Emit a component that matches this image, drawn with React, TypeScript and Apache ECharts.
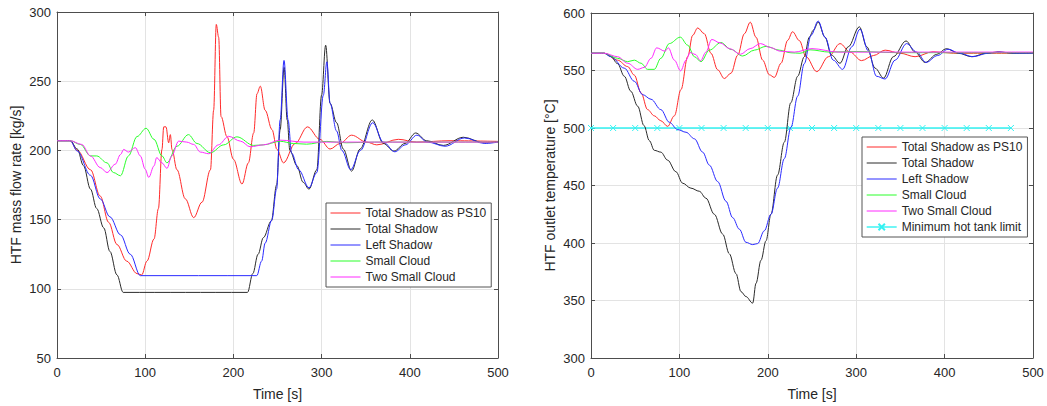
import React, { useEffect, useRef } from 'react';
import * as echarts from 'echarts';

// ---------- Left plot: HTF mass flow rate [kg/s] ----------
const flowPs10T = [0, 15, 23, 38, 49, 58.6, 68, 79, 90.7, 96, 102, 110, 115, 119, 121, 123.6, 126.6, 128.5, 130.4, 136, 145.5, 155, 164.4, 174, 177.6, 180.6, 183.3, 186, 192.7, 200, 209.8, 217, 223, 226.8, 230.5, 236, 243.8, 249.4, 256.8, 270, 284, 298, 309.6, 320.9, 334, 351, 362.6, 387, 407.8, 445.6, 500];
const flowPs10V = [207, 207, 200, 186, 167, 148, 132, 120, 111, 110, 120, 136, 158, 200.7, 217, 217, 205.5, 211.4, 200.7, 186, 165, 151.4, 162.6, 186, 229, 291, 281.7, 224.5, 210, 193.6, 175.7, 191, 212.6, 241, 246.4, 229, 215, 200.7, 191, 205, 217, 208, 201, 205, 211, 206, 204, 208, 206, 207, 206.5];

const flowTotalT = [0, 15, 23, 30, 38, 45, 53, 60, 68, 75, 216, 222, 228, 234, 243, 249, 253, 257.5, 261, 264, 272, 279, 285.7, 294.6, 300, 304.6, 309.6, 317, 324.6, 334, 343.6, 357.5, 370, 382, 394.6, 406.7, 419, 438, 460.7, 484, 500];
const flowTotalV = [207, 207, 201, 189, 172, 158, 144, 127, 110, 97.4, 97.4, 111, 125, 137, 149, 175, 215, 260, 222, 200, 189, 177, 172, 186, 240, 276, 234, 220, 201, 185, 201, 222, 205, 199.5, 205, 212.6, 207, 203.6, 209.5, 205.5, 206];

const flowLeftT = [0, 15, 23, 38, 49, 60, 72, 83, 94.5, 226.5, 232, 236, 243.5, 249, 253, 257.4, 262, 266, 274, 285.7, 294.6, 302, 306, 309.6, 317, 323, 333, 344, 358, 370, 383, 395, 408, 420, 440, 462, 485, 500];
const flowLeftV = [207, 207, 199.5, 182, 165, 152, 139, 125, 109.5, 109.5, 120, 133, 149.7, 172, 222, 265, 222, 198, 186, 173, 184, 240, 264, 234, 214, 200, 186, 200, 220, 206, 199, 204, 211, 206, 203, 209, 205, 206];

const flowSmallT = [0, 15, 26.5, 38, 45, 56.7, 64, 72, 81, 90.7, 101, 110, 119, 124.7, 136, 149, 158.7, 174, 189, 204, 223, 234, 253, 268, 283, 306, 328, 360, 400, 500];
const flowSmallV = [207, 207, 204.3, 196, 196, 191, 184, 181.7, 196, 210, 216, 208, 196, 191, 203, 211.4, 205, 198.3, 204, 209.8, 203.6, 204, 206.6, 205, 204.5, 206.5, 205.5, 206, 206, 206];

const flowTwoT = [0, 15, 28, 38, 49, 56.7, 66, 72, 75.6, 81, 88.8, 94.5, 100, 104, 110, 113, 119, 124.7, 130, 138, 147, 155, 162.5, 172, 183, 194.6, 208, 219, 234, 253, 280, 320, 400, 500];
const flowTwoV = [207, 207, 204.3, 196, 187.6, 184, 190, 197, 200.7, 198.8, 202, 196, 186.4, 180.5, 188.8, 194.8, 191, 187, 196, 206.7, 206, 204.3, 198.8, 197.6, 204, 210.2, 206.7, 202.6, 204, 207.4, 206, 206, 206, 206];

// ---------- Right plot: HTF outlet temperature [°C] ----------
const tempPs10T = [0, 15, 30, 41.5, 49, 56.6, 64, 71.6, 79, 86.7, 94.3, 101.8, 109.4, 115, 120.7, 128.2, 135.7, 143.3, 150.8, 158.4, 166, 173.5, 180.2, 186.6, 194.2, 201.7, 207.4, 215, 222.5, 228, 235.7, 243.2, 255.4, 268.6, 281.7, 293, 306, 319.5, 332.7, 349.7, 366.6, 387, 410, 432.6, 500];
const tempPs10V = [565, 565, 559, 553.4, 546, 530.6, 516, 510.6, 506.3, 501.4, 510.6, 533.4, 562, 580.6, 587, 582, 565, 550.6, 543, 547.7, 563.4, 582, 592, 579, 559, 546.3, 544, 556.3, 576.3, 583.7, 576, 562, 549, 562, 573.4, 566, 558.6, 563, 567.7, 565, 562, 566.3, 565, 565, 565];

const tempTotalT = [0, 15, 22.6, 30, 37.7, 45, 52.8, 60, 66, 71.6, 79, 86.7, 96, 103.7, 113, 122.5, 130, 139.5, 149, 156.5, 164, 169.7, 175.3, 182.9, 186.7, 192.3, 198, 203.6, 211, 218.7, 226, 233.8, 241.3, 247, 251.5, 257, 264.7, 272, 281.7, 291, 303.6, 312, 321.4, 331, 342, 356.4, 366.6, 378, 391, 402, 415.6, 430.6, 447.6, 460.8, 477.8, 500];
const tempTotalV = [565, 565, 562, 556, 545, 532, 519, 502, 489, 480.6, 479, 472, 462, 452, 447.7, 445, 439, 425, 407.7, 390.6, 373.4, 357.7, 353.4, 347.7, 365, 385, 402, 425, 459, 487.7, 522, 545, 562, 579, 585, 592, 579, 563.4, 556.3, 570.6, 588, 570.6, 552, 543.4, 562, 575.7, 566, 557, 564, 569, 565, 562, 565, 566.3, 565, 565.5];

const tempLeftT = [0, 15, 22.6, 37.7, 49, 58.4, 67.9, 79, 88.6, 98, 107.5, 117, 126.3, 133.9, 143.3, 152.7, 160.3, 167.8, 175.3, 182.9, 188.5, 196, 203.6, 211, 218.7, 226.2, 233.8, 241.3, 248.9, 257, 264.7, 274, 284.7, 295, 304.3, 313.7, 323, 332.7, 344, 357, 368.5, 379, 392, 404, 417, 432, 449, 462, 480, 500];
const tempLeftV = [565, 565, 562, 552, 540.6, 529, 525, 516, 505, 498.6, 496.3, 490.6, 479, 467.7, 453.4, 436.3, 422, 412, 400.6, 398.6, 399.5, 410.6, 425, 447.7, 473.4, 500.6, 527.7, 556, 580.6, 593, 579, 559, 551, 570.6, 586, 567, 545, 542.6, 559, 573.4, 566, 557, 563, 568.5, 565, 562, 565, 566, 565, 565];

const tempSmallT = [0, 15, 30, 41.5, 49, 56.6, 64, 71.6, 79, 88.6, 101, 109.4, 117, 124.4, 133.9, 147, 158.4, 171.6, 184.8, 198, 213, 226.2, 236.4, 247.7, 270, 300, 350, 400, 500];
const tempSmallV = [565, 565, 560.6, 557.7, 559, 556.3, 551, 551, 560.6, 573.4, 579, 572, 562, 557.7, 567.7, 574.3, 568.3, 562.6, 567.7, 571, 567.7, 565.4, 565, 568, 566, 566.5, 565.5, 565.5, 565.5];

const tempTwoT = [0, 15, 30, 41.5, 52.8, 60.3, 67.9, 74.3, 83.7, 87.5, 94.3, 101.4, 107.5, 112, 118, 124, 130, 136.6, 146, 157, 169, 180, 191.7, 203, 214, 230, 250, 280, 350, 500];
const tempTwoV = [565, 565, 562, 556.3, 551, 552.7, 560.6, 569.7, 566.8, 569.7, 559, 549.7, 559, 565.6, 564, 558.5, 566, 577, 574, 569, 564.1, 569, 573.4, 570, 566.8, 566, 569, 566, 566, 566];

const limitT = [0, 25, 50, 75, 100, 125, 150, 175, 200, 225, 250, 275, 300, 325, 350, 375, 400, 425, 450, 475];
const limitV = [500, 500, 500, 500, 500, 500, 500, 500, 500, 500, 500, 500, 500, 500, 500, 500, 500, 500, 500, 500];

const seriesNames = ['Total Shadow as PS10', 'Total Shadow', 'Left Shadow', 'Small Cloud', 'Two Small Cloud'];
const limitName = 'Minimum hot tank limit';
const xTitle = 'Time [s]';
const yTitleLeft = 'HTF mass flow rate [kg/s]';
const yTitleRight = 'HTF outlet temperature [°C]';

const COLORS = ['#ff2a2a', '#2b2b2b', '#2a2aff', '#2aff2a', '#ff2aff'];
const CYAN = '#33f2f2';
const FONT = '"Liberation Sans", Arial, Helvetica, sans-serif';
const AX = '#4d4d4d';
const GRIDC = '#e3e3e3';
const TXT = '#262626';

const zip = (t: number[], v: number[]) => t.map((x, i) => [x, v[i]]);

function bottomX(gridIndex: number) {
  return {
    type: 'value', gridIndex, min: 0, max: 500, interval: 100,
    name: xTitle, nameLocation: 'middle', nameGap: 29,
    nameTextStyle: { fontSize: 14, color: TXT, fontFamily: FONT },
    axisLine: { show: true, onZero: false, lineStyle: { color: AX, width: 1 } },
    axisTick: { show: true, inside: true, length: 4, lineStyle: { color: AX } },
    axisLabel: { color: TXT, fontSize: 13, fontFamily: FONT, margin: 8 },
    splitLine: { show: true, lineStyle: { color: GRIDC, width: 1 } },
  };
}
function topX(gridIndex: number) {
  return {
    type: 'value', gridIndex, min: 0, max: 500, interval: 100, position: 'top',
    axisLine: { show: true, onZero: false, lineStyle: { color: AX, width: 1 } },
    axisTick: { show: true, inside: true, length: 4, lineStyle: { color: AX } },
    axisLabel: { show: false },
    splitLine: { show: false },
  };
}
function leftY(gridIndex: number, min: number, max: number, interval: number, name: string) {
  return {
    type: 'value', gridIndex, min, max, interval,
    name, nameLocation: 'middle', nameGap: 34,
    nameTextStyle: { fontSize: 14, color: TXT, fontFamily: FONT },
    axisLine: { show: true, onZero: false, lineStyle: { color: AX, width: 1 } },
    axisTick: { show: true, inside: true, length: 4, lineStyle: { color: AX } },
    axisLabel: { color: TXT, fontSize: 13, fontFamily: FONT, margin: 6 },
    splitLine: { show: true, lineStyle: { color: GRIDC, width: 1 } },
  };
}
function rightY(gridIndex: number, min: number, max: number, interval: number) {
  return {
    type: 'value', gridIndex, min, max, interval, position: 'right',
    axisLine: { show: true, onZero: false, lineStyle: { color: AX, width: 1 } },
    axisTick: { show: true, inside: true, length: 4, lineStyle: { color: AX } },
    axisLabel: { show: false },
    splitLine: { show: false },
  };
}

function lineSeries(name: string, color: string, data: number[][], xi: number, yi: number) {
  return {
    type: 'line', name, data, xAxisIndex: xi, yAxisIndex: yi,
    symbol: 'none', smooth: 0.35, smoothMonotone: 'x',
    lineStyle: { color, width: 1 }, itemStyle: { color },
    z: 3,
  };
}

function legendItems(names: string[], withLimit: boolean) {
  const items: any[] = names.map((n) => ({ name: n, itemStyle: { opacity: 0 }, lineStyle: { width: 1 } }));
  if (withLimit) items.push({ name: limitName, lineStyle: { width: 1.4 } });
  return items;
}

function legend(left: number, top: number, data: any[]) {
  return {
    left, top, orient: 'vertical', data,
    backgroundColor: '#ffffff', borderColor: '#555555', borderWidth: 1, borderRadius: 0,
    padding: [3, 5, 3, 4], itemWidth: 30, itemHeight: 8, itemGap: 2,
    textStyle: { fontSize: 12, color: TXT, fontFamily: FONT, lineHeight: 14 },
    selectedMode: false,
  };
}

export default function App() {
  const ref = useRef<HTMLDivElement>(null);
  useEffect(() => {
    if (!ref.current) return;
    const chart = echarts.init(ref.current, null, { renderer: 'svg' });
    const leftData = [zip(flowPs10T, flowPs10V), zip(flowTotalT, flowTotalV), zip(flowLeftT, flowLeftV), zip(flowSmallT, flowSmallV), zip(flowTwoT, flowTwoV)];
    const rightData = [zip(tempPs10T, tempPs10V), zip(tempTotalT, tempTotalV), zip(tempLeftT, tempLeftV), zip(tempSmallT, tempSmallV), zip(tempTwoT, tempTwoV)];
    const series: any[] = [];
    seriesNames.forEach((n, i) => series.push(lineSeries(n, COLORS[i], leftData[i], 0, 0)));
    series.push({
      type: 'line', name: limitName, data: zip(limitT, limitV), xAxisIndex: 2, yAxisIndex: 2,
      symbol: 'path://M0,0L10,10M0,10L10,0', symbolSize: 6, showSymbol: true,
      lineStyle: { color: CYAN, width: 1.6 },
      itemStyle: { color: CYAN, borderColor: CYAN, borderWidth: 1 },
      z: 2,
    });
    seriesNames.forEach((n, i) => series.push(lineSeries(n, COLORS[i], rightData[i], 2, 2)));

    chart.setOption({
      animation: false,
      backgroundColor: '#ffffff',
      grid: [
        { left: 57, right: 549, top: 12, bottom: 44, show: false },
        { left: 591, right: 14, top: 13, bottom: 43, show: false },
      ],
      xAxis: [bottomX(0), topX(0), bottomX(1), topX(1)],
      yAxis: [
        leftY(0, 50, 300, 50, yTitleLeft), rightY(0, 50, 300, 50),
        leftY(1, 300, 600, 50, yTitleRight), rightY(1, 300, 600, 50),
      ],
      legend: [legend(326, 203, legendItems(seriesNames, false)), legend(862, 137, legendItems(seriesNames, true))],
      series,
    });
    return () => chart.dispose();
  }, []);
  return <div ref={ref} style={{ position: 'fixed', left: 0, top: 0, width: 1047, height: 406, background: '#fff' }} />;
}
